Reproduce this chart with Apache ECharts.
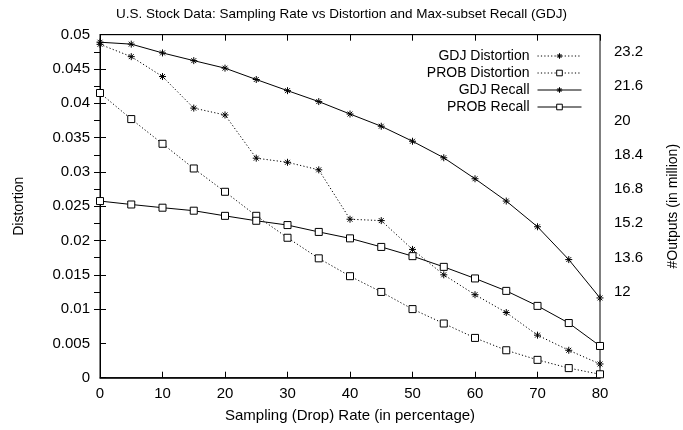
<!DOCTYPE html>
<html><head><meta charset="utf-8">
<script src="https://cdn.jsdelivr.net/npm/echarts@6/dist/echarts.min.js"></script>
<style>html,body{margin:0;padding:0;background:#fff}#c{width:683px;height:430px}</style>
</head><body><div id="c"></div>
<script>
const rates = [0,5,10,15,20,25,30,35,40,45,50,55,60,65,70,75,80];
const gdjDistortion = [0.0486,0.0468,0.0439,0.0393,0.0383,0.0320,0.0314,0.0303,0.0231,0.0229,0.0187,0.0150,0.0121,0.0095,0.0062,0.0040,0.0020];
const probDistortion = [0.0415,0.0377,0.0341,0.0305,0.0271,0.0236,0.0204,0.0174,0.0148,0.0125,0.0100,0.0079,0.0058,0.0040,0.0026,0.0014,0.0005];
const gdjRecall = [23.65,23.56,23.15,22.79,22.44,21.91,21.39,20.88,20.30,19.73,19.03,18.26,17.28,16.24,15.04,13.51,11.72];
const probRecall = [16.24,16.08,15.93,15.79,15.55,15.32,15.12,14.80,14.50,14.10,13.67,13.17,12.63,12.05,11.35,10.55,9.48];
const rightTickValues = [11.2,12,12.8,13.6,14.4,15.2,16,16.8,17.6,18.4,19.2,20,20.8,21.6,22.4,23.2];
const rightLabelValues = [12,13.6,15.2,16.8,18.4,20,21.6,23.2];
const seriesNames = ['GDJ Distortion','PROB Distortion','GDJ Recall','PROB Recall'];

const FONT = '"Liberation Sans", Arial, sans-serif';
const star = 'path://M0,5L10,5M5,0L5,10M1.5,1.5L8.5,8.5M8.5,1.5L1.5,8.5';
const pair = (ys) => rates.map((x,i)=>[x, ys[i]]);
const dotType = [1.2,2.2];

const chart = echarts.init(document.getElementById('c'), null, {renderer:'canvas'});
function mkSeries(name, ys, yIdx, dotted, isStar){
  return {
    name, type:'line', xAxisIndex:0, yAxisIndex:yIdx, data: pair(ys),
    symbol: isStar ? star : 'rect', symbolSize: 7,
    showSymbol:true, animation:false, z: 3,
    lineStyle:{color:'#000', width:1, type: dotted ? dotType : 'solid'},
    itemStyle:{color: isStar ? '#000' : '#fff', borderColor:'#000', borderWidth: 1},
    emphasis:{disabled:true}
  };
}
const legends = seriesNames.map((n,i)=>({
  data:[n], right:101, top: 49 + i*17, align:'right', orient:'vertical',
  itemWidth:44, itemHeight:7, itemGap:0, padding:0,
  lineStyle:{width:1},
  itemStyle:{borderWidth:1},
  textStyle:{fontFamily:FONT, fontSize:14, color:'#000', padding:[0,3,0,0]},
  selectedMode:false
}));
chart.setOption({
  animation:false,
  backgroundColor:'#fff',
  title:{text:'U.S. Stock Data: Sampling Rate vs Distortion and Max-subset Recall (GDJ)', left:'center', top:2,
    textStyle:{fontFamily:FONT, fontSize:13.5, fontWeight:'normal', color:'#000'}},
  legend: legends,
  grid:{left:100, right:83, top:34.7, bottom:52.3, show:true, borderColor:'#000', borderWidth:1,
    containLabel:false, outerBoundsMode:'none'},
  xAxis:[{
    type:'value', min:0, max:80, interval:10, position:'bottom',
    name:'Sampling (Drop) Rate (in percentage)', nameLocation:'middle', nameGap:31,
    nameTextStyle:{fontFamily:FONT, fontSize:15, color:'#000'},
    axisLine:{show:true, lineStyle:{color:'#000', width:1.5}},
    axisTick:{show:true, inside:true, length:6, lineStyle:{color:'#000'}},
    axisLabel:{fontFamily:FONT, fontSize:15, color:'#000', margin:9},
    splitLine:{show:false}
  },{
    type:'value', min:0, max:80, interval:10, position:'top',
    axisLine:{show:true, lineStyle:{color:'#000'}},
    axisTick:{show:true, inside:true, length:6, lineStyle:{color:'#000'}},
    axisLabel:{show:false}, splitLine:{show:false}
  }],
  yAxis:[{
    type:'value', min:0, max:0.05, interval:0.005, position:'left',
    name:'Distortion', nameLocation:'middle', nameGap:74, nameRotate:90,
    nameTextStyle:{fontFamily:FONT, fontSize:14, color:'#000'},
    axisLine:{show:true, lineStyle:{color:'#000'}},
    axisTick:{show:true, inside:true, length:6, lineStyle:{color:'#000'}},
    axisLabel:{fontFamily:FONT, fontSize:15, color:'#000', margin:10},
    splitLine:{show:false}
  },{
    type:'value', min:8, max:24, position:'right',
    name:'#Outputs (in million)', nameLocation:'middle', nameGap:66, nameRotate:90,
    nameTextStyle:{fontFamily:FONT, fontSize:14, color:'#000'},
    axisLine:{show:true, lineStyle:{color:'#000'}},
    axisTick:{show:true, inside:true, length:6, lineStyle:{color:'#000'}, customValues: rightTickValues},
    axisLabel:{fontFamily:FONT, fontSize:15, color:'#000', margin:14, customValues: rightLabelValues,
      formatter:(v)=>String(Math.round(v*10)/10)},
    splitLine:{show:false}
  }],
  series:[
    mkSeries(seriesNames[0], gdjDistortion, 0, true, true),
    mkSeries(seriesNames[1], probDistortion, 0, true, false),
    mkSeries(seriesNames[2], gdjRecall, 1, false, true),
    mkSeries(seriesNames[3], probRecall, 1, false, false)
  ]
});
</script></body></html>
